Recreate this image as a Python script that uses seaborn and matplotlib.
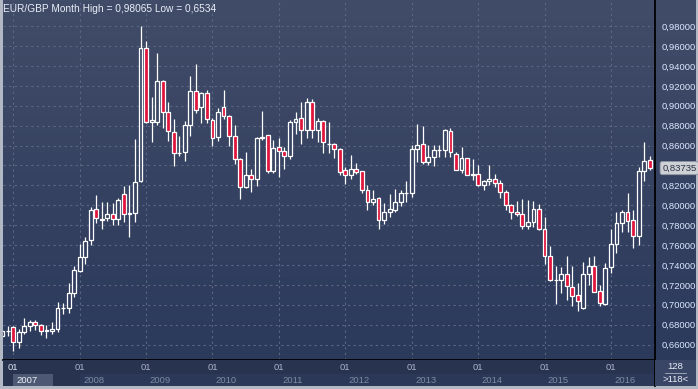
import numpy as np
import pandas as pd
import matplotlib
matplotlib.use("Agg")
import matplotlib.pyplot as plt
import seaborn as sns
from matplotlib.patches import Rectangle

# monthly EUR/GBP candles, Nov 2006 .. Aug 2016
months = pd.date_range("2006-11-01", periods=118, freq="MS")
opens = [0.6687, 0.6735, 0.6774, 0.6630, 0.6730, 0.6787, 0.6824, 0.6797, 0.6738, 0.6734,
         0.6754, 0.6965, 0.6965, 0.7116, 0.7343, 0.7477, 0.7655, 0.7960, 0.7866, 0.7869,
         0.7910, 0.7859, 0.8111, 0.7910, 0.7926, 0.8245, 0.9578, 0.8834, 0.8841, 0.9250,
         0.8941, 0.8740, 0.8523, 0.8533, 0.8804, 0.9152, 0.8985, 0.9126, 0.8854, 0.8690,
         0.8985, 0.8898, 0.8700, 0.8462, 0.8188, 0.8302, 0.8261, 0.8673, 0.8704, 0.8342,
         0.8583, 0.8543, 0.8492, 0.8838, 0.8874, 0.8754, 0.9035, 0.8754, 0.8848, 0.8613,
         0.8613, 0.8563, 0.8352, 0.8302, 0.8369, 0.8342, 0.8151, 0.8030, 0.8070, 0.7849,
         0.7930, 0.7950, 0.8030, 0.8121, 0.8121, 0.8563, 0.8613, 0.8432, 0.8482, 0.8553,
         0.8553, 0.8744, 0.8513, 0.8352, 0.8472, 0.8302, 0.8312, 0.8201, 0.8241, 0.8261,
         0.8221, 0.8131, 0.8000, 0.7930, 0.7910, 0.7789, 0.7829, 0.7960, 0.7759, 0.7494,
         0.7246, 0.7246, 0.7307, 0.7176, 0.7095, 0.6965, 0.7307, 0.7387, 0.7136, 0.7012,
         0.7377, 0.7608, 0.7819, 0.7930, 0.7849, 0.7688, 0.8342, 0.8452]
highs = [0.6745, 0.6787, 0.6790, 0.6754, 0.6864, 0.6848, 0.6848, 0.6807, 0.6797, 0.6824,
         0.7032, 0.7018, 0.7216, 0.7390, 0.7611, 0.7678, 0.7987, 0.8104, 0.8030, 0.8030,
         0.8023, 0.8070, 0.8194, 0.8204, 0.8667, 0.98065, 0.9652, 0.9092, 0.9528, 0.9260,
         0.9035, 0.8864, 0.8697, 0.8848, 0.9303, 0.9420, 0.9142, 0.9159, 0.8874, 0.8975,
         0.9159, 0.8905, 0.8807, 0.8472, 0.8536, 0.8365, 0.8690, 0.8948, 0.8710, 0.8657,
         0.8673, 0.8583, 0.8858, 0.8938, 0.9042, 0.9075, 0.9065, 0.8874, 0.8855, 0.8838,
         0.8630, 0.8573, 0.8385, 0.8506, 0.8422, 0.8345, 0.8201, 0.8154, 0.8080, 0.8020,
         0.8114, 0.8164, 0.8154, 0.8248, 0.8603, 0.8814, 0.8801, 0.8606, 0.8606, 0.8603,
         0.8764, 0.8774, 0.8533, 0.8583, 0.8475, 0.8462, 0.8405, 0.8251, 0.8405, 0.8315,
         0.8255, 0.8154, 0.8013, 0.8044, 0.8060, 0.8054, 0.8044, 0.8013, 0.7879, 0.7591,
         0.7390, 0.7384, 0.7491, 0.7390, 0.7223, 0.7430, 0.7484, 0.7491, 0.7196, 0.7417,
         0.7762, 0.7936, 0.7953, 0.8121, 0.7953, 0.8382, 0.8637, 0.8492]
lows = [0.6680, 0.6687, 0.6534, 0.6570, 0.6704, 0.6740, 0.6747, 0.6697, 0.6670, 0.6710,
        0.6730, 0.6908, 0.6915, 0.7082, 0.7333, 0.7407, 0.7598, 0.7819, 0.7765, 0.7843,
        0.7802, 0.7802, 0.7836, 0.7685, 0.7836, 0.8238, 0.8825, 0.8640, 0.8807, 0.8780,
        0.8650, 0.8399, 0.8499, 0.8449, 0.8700, 0.8925, 0.8831, 0.8831, 0.8600, 0.8650,
        0.8864, 0.8600, 0.8412, 0.8067, 0.8171, 0.8137, 0.8198, 0.8657, 0.8328, 0.8322,
        0.8281, 0.8362, 0.8462, 0.8717, 0.8613, 0.8673, 0.8673, 0.8640, 0.8530, 0.8529,
        0.8479, 0.8302, 0.8218, 0.8261, 0.8312, 0.8121, 0.7950, 0.8003, 0.7759, 0.7809,
        0.7880, 0.7936, 0.7990, 0.8030, 0.8080, 0.8439, 0.8412, 0.8402, 0.8399, 0.8482,
        0.8482, 0.8489, 0.8352, 0.8322, 0.8300, 0.8251, 0.8191, 0.8154, 0.8204, 0.8188,
        0.8077, 0.7953, 0.7866, 0.7893, 0.7765, 0.7765, 0.7786, 0.7755, 0.7407, 0.7240,
        0.7008, 0.7116, 0.7052, 0.6985, 0.6935, 0.6960, 0.7196, 0.7130, 0.6988, 0.7002,
        0.7317, 0.7524, 0.7729, 0.7729, 0.7568, 0.7598, 0.8248, 0.8355]
closes = [0.6737, 0.6740, 0.6630, 0.6730, 0.6787, 0.6824, 0.6797, 0.6734, 0.6744, 0.6754,
          0.6965, 0.6972, 0.7116, 0.7350, 0.7477, 0.7642, 0.7950, 0.7869, 0.7849, 0.7910,
          0.7859, 0.8050, 0.7910, 0.7920, 0.8238, 0.9578, 0.8834, 0.8858, 0.9250, 0.8941,
          0.8747, 0.8523, 0.8530, 0.8804, 0.9152, 0.8958, 0.9126, 0.8864, 0.8673, 0.8935,
          0.8898, 0.8700, 0.8462, 0.8188, 0.8302, 0.8261, 0.8673, 0.8687, 0.8342, 0.8576,
          0.8543, 0.8492, 0.8838, 0.8864, 0.8754, 0.9035, 0.8754, 0.8848, 0.8633, 0.8618,
          0.8563, 0.8332, 0.8302, 0.8369, 0.8332, 0.8151, 0.8030, 0.8060, 0.7849, 0.7930,
          0.7963, 0.8030, 0.8121, 0.8125, 0.8563, 0.8603, 0.8432, 0.8482, 0.8553, 0.8556,
          0.8754, 0.8533, 0.8358, 0.8472, 0.8302, 0.8312, 0.8201, 0.8241, 0.8261, 0.8221,
          0.8131, 0.8000, 0.7930, 0.7910, 0.7789, 0.7829, 0.7960, 0.7759, 0.7494, 0.7246,
          0.7250, 0.7307, 0.7186, 0.7092, 0.7035, 0.7307, 0.7387, 0.7132, 0.7018, 0.7367,
          0.7608, 0.7819, 0.7930, 0.7839, 0.7688, 0.8342, 0.8442, 0.83735]

price_ticks = [0.66, 0.68, 0.70, 0.72, 0.74, 0.76, 0.78, 0.80, 0.82,
               0.84, 0.86, 0.88, 0.90, 0.92, 0.94, 0.96, 0.98]
years = [2007, 2008, 2009, 2010, 2011, 2012, 2013, 2014, 2015, 2016]
last_price = 0.83735

df = pd.DataFrame({"month": months, "open": opens, "high": highs,
                   "low": lows, "close": closes})
df["pos"] = np.arange(len(df))
df["up"] = df["close"] >= df["open"]
df["bottom"] = df[["open", "close"]].min(axis=1)
df["body"] = (df["close"] - df["open"]).abs().clip(lower=0.0003)
jan_pos = df.loc[df["month"].dt.month == 1, "pos"].tolist()

sns.set_theme(style="dark")
plt.rcParams["font.family"] = ["Liberation Sans", "DejaVu Sans"]

W, H = 698, 389
fig = plt.figure(figsize=(W / 100, H / 100), dpi=100)
fig.patch.set_facecolor("#b3b9c4")

top_c = np.array([0x41, 0x4c, 0x68]) / 255
bot_c = np.array([0x2b, 0x39, 0x5b]) / 255

# gradient background behind chart and price scale
bg = fig.add_axes([3 / W, 29 / H, 693 / W, 360 / H])
grad = np.linspace(0, 1, 256)[:, None, None]
bg.imshow(top_c + (bot_c - top_c) * grad, aspect="auto", extent=[0, 1, 0, 1])
bg.set_axis_off()

ax = fig.add_axes([3 / W, 29 / H, 652 / W, 360 / H])
ax.patch.set_alpha(0)
ylo, yhi = 0.6445, 1.0063
ax.set_xlim(0.145, 117.96)
ax.set_ylim(ylo, yhi)

# up bodies filled with the background colour at their height
frac = 1 - ((df["bottom"] + df["body"] / 2) - ylo) / (yhi - ylo)
fills = [tuple(top_c + (bot_c - top_c) * f) if u else "#e0143c"
         for f, u in zip(frac, df["up"])]

ax.vlines(df["pos"], df["low"], df["high"], color="white", lw=0.9, zorder=2)
ax.bar(df["pos"], df["body"], bottom=df["bottom"], width=0.7, color=fills,
       edgecolor="white", linewidth=0.9, zorder=3)

# the 0,84000 label sits under the last-price box
ax.set_yticks(price_ticks)
ax.set_yticklabels(["" if abs(v - 0.84) < 1e-9 else f"{v:.5f}".replace(".", ",")
                    for v in price_ticks])
ax.yaxis.tick_right()
ax.tick_params(axis="y", length=0, pad=4.5, labelsize=6.8, labelcolor="#dce8ff")
ax.set_xticks(jan_pos)
ax.tick_params(axis="x", length=0, labelbottom=False)
ax.grid(True, color="#5b6784", linestyle=(0, (2, 3)), linewidth=0.8, zorder=0)
for s in ["left", "top"]:
    ax.spines[s].set_visible(False)
for s in ["right", "bottom"]:
    ax.spines[s].set_color("black")
    ax.spines[s].set_linewidth(1.3)

ax.text(0.0, 0.99, "EUR/GBP Month High = 0,98065 Low = 0,6534", transform=ax.transAxes,
        ha="left", va="top", fontsize=7.3, color="#e8eef8")

ax.text(1.011, last_price, "0,83735", transform=ax.get_yaxis_transform(), ha="left",
        va="center", fontsize=6.8, color="#2a3040", zorder=5, clip_on=False,
        bbox=dict(boxstyle="round,pad=0.22", fc="#cdd1d6", ec="#8d94a0", lw=0.6))

# bottom date strip
strip = fig.add_axes([3 / W, 3 / H, 652 / W, 26 / H])
strip.set_facecolor("#27334f")
strip.set_xlim(ax.get_xlim())
strip.set_ylim(0, 1)
strip.set_xticks([])
strip.set_yticks([])
for s in ["left", "top", "bottom"]:
    strip.spines[s].set_visible(False)
strip.spines["right"].set_color("black")
strip.spines["right"].set_linewidth(1.3)
for i, (p, yr) in enumerate(zip(jan_pos, years)):
    if i == 0:
        strip.add_patch(Rectangle((p, 0), 7.2, 0.47, fc="#4d5874", ec="none"))
    else:
        strip.add_patch(Rectangle((p, 0), 12, 0.47, fc="#2c3857", ec="none"))
    strip.text(p, 0.72, "01", ha="center", va="center", fontsize=6.8,
               color="#dde5f2" if i == 0 else "#a9b4c8")
    strip.text(p + 0.6, 0.22, str(yr), ha="left", va="center", fontsize=6.8,
               color="#f0f4fa" if i == 0 else "#7d8aa4")

corner = fig.add_axes([655 / W, 3 / H, 41 / W, 26 / H])
corner.set_facecolor("#3a4666")
corner.set_xticks([])
corner.set_yticks([])
for s in corner.spines.values():
    s.set_visible(False)
corner.set_xlim(0, 1)
corner.set_ylim(0, 1)
corner.text(0.5, 0.74, "128", ha="center", va="center", fontsize=6.8, color="#e8eef8")
corner.plot([0.25, 0.75], [0.5, 0.5], color="#9aa4b8", lw=0.7)
corner.text(0.5, 0.25, ">118<", ha="center", va="center", fontsize=6.8, color="#e8eef8")

fig.savefig("out.png", dpi=100)
